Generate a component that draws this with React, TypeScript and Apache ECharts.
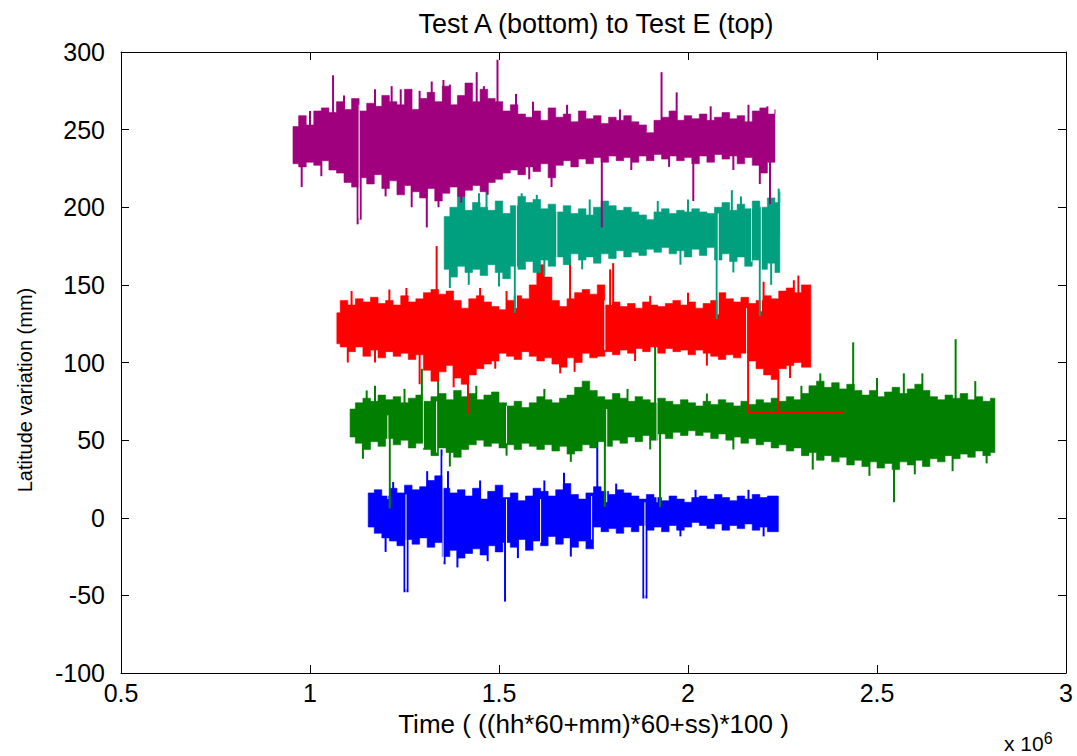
import React, { useEffect, useRef } from "react";
import * as echarts from "echarts";

// ---- Data (time in units of 10^6, latitude variation in mm) ----
// Each envelope row: [time, upper value, lower value]
const TEST_E: [number, number, number][] = [
  [0.955, 252, 228], [0.97, 259, 226], [0.99, 253, 229], [1.01, 262, 227], [1.03, 264, 230],
  [1.05, 261, 224], [1.07, 268, 222], [1.09, 263, 216], [1.11, 270, 213], [1.13, 262, 219],
  [1.15, 267, 215], [1.17, 265, 221], [1.19, 272, 212], [1.21, 268, 217], [1.23, 266, 208],
  [1.25, 276, 214], [1.27, 263, 210], [1.29, 270, 206], [1.31, 274, 212], [1.33, 268, 204],
  [1.35, 278, 209], [1.37, 266, 213], [1.39, 272, 207], [1.41, 280, 211], [1.43, 268, 214],
  [1.45, 276, 210], [1.47, 270, 216], [1.49, 268, 218], [1.51, 262, 222], [1.53, 266, 224],
  [1.55, 260, 221], [1.57, 258, 226], [1.59, 262, 223], [1.61, 256, 228], [1.63, 264, 219],
  [1.65, 258, 227], [1.67, 260, 230], [1.69, 255, 226], [1.71, 262, 231], [1.73, 257, 228],
  [1.75, 259, 232], [1.77, 254, 229], [1.79, 258, 233], [1.81, 256, 230], [1.83, 259, 232],
  [1.85, 255, 229], [1.87, 253, 233], [1.89, 248, 230], [1.91, 256, 234], [1.93, 258, 231],
  [1.95, 262, 233], [1.97, 256, 230], [1.99, 259, 232], [2.01, 257, 228], [2.03, 260, 233],
  [2.05, 256, 229], [2.07, 258, 234], [2.09, 261, 231], [2.11, 257, 233], [2.13, 259, 228],
  [2.15, 255, 232], [2.17, 262, 227], [2.19, 264, 222], [2.21, 260, 229], [2.23, 263, 231],
];
const TEST_E_SPIKES: [number, number][] = [
  [0.978, 213], [1.00, 262], [1.03, 220], [1.061, 285], [1.09, 272], [1.126, 189], [1.134, 192],
  [1.172, 276], [1.20, 207], [1.216, 278], [1.24, 276], [1.269, 200], [1.29, 275], [1.309, 187],
  [1.322, 281], [1.34, 200], [1.353, 282], [1.37, 279], [1.40, 203], [1.423, 280], [1.441, 287],
  [1.46, 278], [1.47, 208], [1.496, 295], [1.545, 273], [1.58, 218], [1.59, 268], [1.639, 213],
  [1.68, 266], [1.772, 187], [1.82, 263], [1.85, 224], [1.930, 287], [1.95, 226], [1.970, 274],
  [2.014, 204], [2.06, 265], [2.12, 224], [2.16, 266], [2.19, 215], [2.21, 265], [2.217, 202],
];
const TEST_E_GAPS: [number, number, number][] = [[1.130, 266, 193]];

const TEST_D: [number, number, number][] = [
  [1.355, 194, 160], [1.37, 200, 155], [1.39, 207, 162], [1.41, 198, 158], [1.43, 203, 160],
  [1.45, 200, 156], [1.47, 198, 163], [1.49, 204, 158], [1.51, 196, 154], [1.53, 201, 162],
  [1.55, 207, 160], [1.57, 203, 165], [1.59, 205, 158], [1.61, 199, 166], [1.63, 202, 162],
  [1.65, 197, 168], [1.67, 201, 163], [1.69, 196, 170], [1.71, 199, 166], [1.73, 195, 168],
  [1.75, 200, 164], [1.77, 204, 170], [1.79, 201, 167], [1.81, 198, 172], [1.83, 200, 168],
  [1.85, 197, 171], [1.87, 195, 169], [1.89, 192, 173], [1.91, 197, 171], [1.93, 199, 174],
  [1.95, 196, 170], [1.97, 198, 172], [1.99, 197, 168], [2.01, 199, 173], [2.03, 197, 169],
  [2.05, 196, 174], [2.07, 200, 166], [2.09, 203, 170], [2.11, 198, 165], [2.13, 202, 168],
  [2.15, 199, 162], [2.17, 204, 166], [2.19, 200, 160], [2.21, 206, 164], [2.23, 203, 158],
  [2.243, 210, 162],
];
const TEST_D_SPIKES: [number, number][] = [
  [1.37, 148], [1.40, 210], [1.42, 150], [1.447, 209], [1.467, 218], [1.50, 149], [1.542, 132],
  [1.56, 209], [1.60, 208], [1.62, 156], [1.72, 160], [1.74, 205], [1.92, 204], [1.98, 163],
  [2.00, 205], [2.076, 128], [2.116, 211], [2.12, 158], [2.14, 207], [2.19, 130], [2.22, 150],
  [2.24, 212],
];
const TEST_D_GAPS: [number, number, number][] = [
  [1.546, 207, 135], [1.653, 205, 160], [2.080, 196, 131], [2.168, 200, 165], [2.194, 205, 133],
];

const TEST_C: [number, number, number][] = [
  [1.071, 132, 112], [1.08, 140, 110], [1.10, 137, 107], [1.12, 141, 110], [1.14, 139, 104],
  [1.16, 142, 108], [1.18, 138, 103], [1.20, 140, 107], [1.22, 137, 104], [1.24, 143, 106],
  [1.26, 139, 102], [1.28, 141, 105], [1.30, 145, 95], [1.32, 147, 88], [1.34, 144, 94],
  [1.36, 146, 98], [1.38, 140, 90], [1.40, 135, 86], [1.42, 141, 92], [1.44, 143, 96],
  [1.46, 139, 99], [1.48, 136, 101], [1.50, 134, 106], [1.52, 140, 104], [1.54, 143, 102],
  [1.56, 141, 107], [1.58, 150, 104], [1.60, 163, 101], [1.62, 155, 103], [1.64, 140, 99],
  [1.66, 136, 97], [1.68, 141, 103], [1.70, 145, 100], [1.72, 147, 106], [1.74, 144, 103],
  [1.76, 150, 104], [1.78, 137, 107], [1.80, 139, 105], [1.82, 136, 108], [1.84, 138, 106],
  [1.86, 135, 109], [1.88, 139, 107], [1.90, 137, 110], [1.92, 136, 106], [1.94, 138, 109],
  [1.96, 140, 107], [1.98, 137, 108], [2.00, 139, 105], [2.02, 135, 108], [2.04, 138, 106],
  [2.06, 140, 104], [2.08, 145, 102], [2.10, 141, 105], [2.12, 139, 103], [2.14, 142, 106],
  [2.16, 138, 101], [2.18, 140, 96], [2.20, 143, 92], [2.22, 141, 89], [2.24, 146, 96],
  [2.26, 148, 98], [2.28, 145, 100], [2.30, 150, 97], [2.325, 147, 99],
];
const TEST_C_SPIKES: [number, number][] = [
  [1.10, 100], [1.11, 146], [1.172, 100], [1.21, 147], [1.255, 148], [1.29, 86], [1.335, 175],
  [1.38, 84], [1.418, 67], [1.45, 148], [1.49, 96], [1.52, 146], [1.662, 93], [1.688, 167],
  [1.70, 94], [1.794, 160], [1.802, 164], [1.86, 101], [1.90, 143], [2.00, 145], [2.05, 98],
  [2.20, 152], [2.27, 90], [2.28, 153], [2.292, 156],
];
const TEST_C_GAPS: [number, number, number][] = [[1.78, 140, 108], [2.155, 135, 105]];
// Test C's trace jumps down and runs flat at the end
const TEST_C_STEP: [number, number][] = [[2.159, 108], [2.159, 67.5], [2.41, 67.5]];
const TEST_C_STEP2: [number, number][] = [[2.239, 95], [2.239, 67.5]];

const TEST_B: [number, number, number][] = [
  [1.106, 70, 52], [1.12, 74, 48], [1.14, 77, 44], [1.16, 75, 49], [1.18, 79, 46],
  [1.20, 76, 51], [1.22, 78, 47], [1.24, 74, 50], [1.26, 77, 45], [1.28, 79, 48],
  [1.30, 75, 44], [1.32, 78, 40], [1.34, 80, 45], [1.36, 76, 42], [1.38, 82, 39],
  [1.40, 78, 44], [1.42, 80, 47], [1.44, 76, 50], [1.46, 79, 46], [1.48, 81, 48],
  [1.50, 74, 45], [1.52, 72, 47], [1.54, 75, 44], [1.56, 71, 48], [1.58, 74, 46],
  [1.60, 78, 44], [1.62, 76, 47], [1.64, 74, 43], [1.66, 77, 46], [1.68, 79, 41],
  [1.70, 84, 43], [1.72, 88, 47], [1.74, 82, 45], [1.76, 78, 49], [1.78, 76, 46],
  [1.80, 80, 50], [1.82, 77, 48], [1.84, 75, 52], [1.86, 78, 49], [1.88, 76, 53],
  [1.90, 74, 50], [1.92, 77, 54], [1.94, 75, 51], [1.96, 73, 55], [1.98, 76, 53],
  [2.00, 74, 56], [2.02, 72, 53], [2.04, 75, 55], [2.06, 73, 51], [2.08, 76, 54],
  [2.10, 74, 50], [2.12, 72, 52], [2.14, 75, 48], [2.16, 73, 51], [2.18, 76, 47],
  [2.20, 74, 49], [2.22, 77, 45], [2.24, 75, 47], [2.26, 78, 43], [2.28, 76, 45],
  [2.30, 80, 40], [2.32, 85, 42], [2.34, 88, 37], [2.36, 84, 40], [2.38, 87, 36],
  [2.40, 83, 39], [2.42, 86, 34], [2.44, 82, 37], [2.46, 79, 33], [2.48, 82, 36],
  [2.50, 78, 32], [2.52, 81, 35], [2.54, 84, 31], [2.56, 80, 36], [2.58, 83, 34],
  [2.60, 86, 37], [2.62, 82, 33], [2.64, 78, 38], [2.66, 76, 36], [2.68, 79, 40],
  [2.70, 77, 38], [2.72, 80, 41], [2.74, 76, 39], [2.76, 78, 43], [2.78, 75, 40],
  [2.80, 77, 42], [2.812, 74, 44],
];
const TEST_B_SPIKES: [number, number][] = [
  [1.14, 38], [1.15, 82], [1.172, 85], [1.211, 6], [1.25, 83], [1.296, 96], [1.339, 106],
  [1.37, 33], [1.44, 85], [1.52, 40], [1.62, 83], [1.69, 36], [1.780, 7], [1.84, 83],
  [1.90, 44], [1.913, 111], [1.926, 7], [2.05, 80], [2.12, 44], [2.30, 85], [2.33, 31],
  [2.35, 93], [2.437, 113], [2.48, 27], [2.50, 90], [2.545, 10], [2.571, 93], [2.60, 28],
  [2.62, 93], [2.70, 30], [2.708, 115], [2.76, 88], [2.79, 35],
];
const TEST_B_GAPS: [number, number, number][] = [
  [1.206, 66, 12], [1.30, 80, 45], [1.335, 75, 42], [1.52, 72, 48], [1.785, 70, 10], [1.918, 75, 10],
];

const TEST_A: [number, number, number][] = [
  [1.154, 16, -6], [1.17, 18, -10], [1.19, 14, -13], [1.21, 19, -15], [1.23, 16, -18],
  [1.25, 21, -14], [1.27, 18, -17], [1.29, 20, -13], [1.31, 24, -19], [1.33, 27, -16],
  [1.35, 19, -25], [1.37, 16, -21], [1.39, 18, -26], [1.41, 14, -23], [1.43, 19, -20],
  [1.45, 12, -24], [1.47, 17, -18], [1.49, 21, -22], [1.51, 13, -16], [1.53, 16, -19],
  [1.55, 11, -14], [1.57, 14, -21], [1.59, 19, -15], [1.61, 17, -18], [1.63, 14, -12],
  [1.65, 18, -17], [1.67, 22, -13], [1.69, 15, -19], [1.71, 12, -15], [1.73, 16, -20],
  [1.75, 20, -6], [1.77, 17, -9], [1.79, 15, -7], [1.81, 18, -10], [1.83, 16, -6],
  [1.85, 14, -9], [1.87, 12, -5], [1.89, 15, -8], [1.91, 13, -6], [1.93, 11, -9],
  [1.95, 14, -5], [1.97, 12, -8], [1.99, 10, -6], [2.01, 13, -3], [2.03, 14, -5],
  [2.05, 12, -7], [2.07, 15, -4], [2.09, 13, -8], [2.11, 11, -5], [2.13, 14, -7],
  [2.15, 12, -4], [2.17, 15, -8], [2.19, 13, -6], [2.21, 14, -9], [2.239, 12, -6],
];
const TEST_A_SPIKES: [number, number][] = [
  [1.20, -22], [1.22, 23], [1.250, -48], [1.258, -48], [1.31, 30], [1.348, 44], [1.356, -30],
  [1.365, 30], [1.39, -32], [1.45, 24], [1.47, -28], [1.516, -54], [1.55, -26], [1.62, 24],
  [1.672, 29], [1.69, -25], [1.760, 52], [1.81, 22], [1.882, -52], [1.890, -52], [1.98, -12],
  [2.02, 18], [2.16, 18], [2.20, -12],
];
const TEST_A_GAPS: [number, number, number][] = [
  [1.254, 15, -46], [1.352, 40, -28], [1.52, 12, -50], [1.61, 12, -16], [1.745, 14, -14], [1.886, 10, -50],
];

const X_TICKS = [0.5, 1, 1.5, 2, 2.5, 3];
const Y_TICKS = [-100, -50, 0, 50, 100, 150, 200, 250, 300];

const TITLE = "Test A (bottom) to Test E (top)";
const X_NAME = "Time ( ((hh*60+mm)*60+ss)*100 )";
const Y_NAME = "Latitude variation (mm)";

const FONT = "'Liberation Sans', Arial, Helvetica, sans-serif";

function makeRender(
  env: [number, number, number][],
  spikes: [number, number][],
  gaps: [number, number, number][],
  color: string
) {
  return (params: any, api: any) => {
    if (params.dataIndex !== 0) return null;
    const n = env.length;
    const pts: number[][] = [];
    for (let i = 0; i < n; i++) {
      const tn = i + 1 < n ? env[i + 1][0] : env[i][0];
      pts.push(api.coord([env[i][0], env[i][1]]));
      pts.push(api.coord([tn, env[i][1]]));
    }
    for (let i = n - 1; i >= 0; i--) {
      const tn = i + 1 < n ? env[i + 1][0] : env[i][0];
      pts.push(api.coord([tn, env[i][2]]));
      pts.push(api.coord([env[i][0], env[i][2]]));
    }
    const children: any[] = [
      { type: "polygon", shape: { points: pts }, style: { fill: color, stroke: color, lineWidth: 0.6 } },
    ];
    spikes.forEach(([t, v]) => {
      let best = env[0];
      for (const row of env) if (row[0] <= t) best = row;
      const base = (best[1] + best[2]) / 2;
      const p = api.coord([t, base]);
      const q = api.coord([t, v]);
      children.push({
        type: "line",
        shape: { x1: p[0], y1: p[1], x2: q[0], y2: q[1] },
        style: { stroke: color, lineWidth: 2 },
      });
    });
    gaps.forEach(([t, a, b]) => {
      const p = api.coord([t, a]);
      const q = api.coord([t, b]);
      children.push({
        type: "line",
        shape: { x1: p[0], y1: p[1], x2: q[0], y2: q[1] },
        style: { stroke: "#ffffff", lineWidth: 1 },
      });
    });
    return { type: "group", children };
  };
}

function testSeries(
  name: string,
  env: [number, number, number][],
  spikes: [number, number][],
  gaps: [number, number, number][],
  color: string,
  z: number
) {
  return {
    type: "custom",
    name,
    xAxisIndex: 0,
    yAxisIndex: 0,
    z,
    data: env.map((r) => [r[0], r[1]]),
    renderItem: makeRender(env, spikes, gaps, color),
    silent: true,
  };
}

export default function App() {
  const ref = useRef<HTMLDivElement>(null);
  useEffect(() => {
    if (!ref.current) return;
    const chart = echarts.init(ref.current, undefined, { renderer: "svg" });
    const axisCommon = {
      type: "value",
      axisLine: { show: true, onZero: false, lineStyle: { color: "#000", width: 1 } },
      axisTick: { show: true, inside: true, length: 8, lineStyle: { color: "#000", width: 1 } },
      splitLine: { show: false },
    };
    const labelStyle = {
      color: "#000",
      fontSize: 25,
      fontFamily: FONT,
    };
    const option: any = {
      animation: false,
      backgroundColor: "#ffffff",
      title: {
        text: TITLE,
        left: 591,
        top: 5,
        textAlign: "center",
        textStyle: { fontSize: 27, fontWeight: "normal", color: "#000", fontFamily: FONT },
      },
      grid: { left: 121, right: 11, top: 52, bottom: 83, containLabel: false },
      xAxis: [
        {
          ...axisCommon,
          position: "bottom",
          min: X_TICKS[0],
          max: X_TICKS[X_TICKS.length - 1],
          interval: 0.5,
          axisLabel: { ...labelStyle, margin: 7, showMinLabel: true, showMaxLabel: true, hideOverlap: false },
          name: X_NAME,
          nameLocation: "middle",
          nameGap: 38,
          nameTextStyle: { ...labelStyle, fontSize: 26 },
        },
        {
          ...axisCommon,
          position: "top",
          min: X_TICKS[0],
          max: X_TICKS[X_TICKS.length - 1],
          interval: 0.5,
          axisLabel: { show: false },
        },
      ],
      yAxis: [
        {
          ...axisCommon,
          position: "left",
          min: Y_TICKS[0],
          max: Y_TICKS[Y_TICKS.length - 1],
          interval: 50,
          axisLabel: { ...labelStyle, margin: 16, showMinLabel: true, showMaxLabel: true },
        },
        {
          ...axisCommon,
          position: "right",
          min: Y_TICKS[0],
          max: Y_TICKS[Y_TICKS.length - 1],
          interval: 50,
          axisLabel: { show: false },
        },
      ],
      graphic: [
        {
          type: "text",
          x: 25,
          y: 390,
          rotation: Math.PI / 2,
          style: {
            text: Y_NAME,
            fontSize: 20,
            fontFamily: FONT,
            fill: "#000",
            align: "center",
            verticalAlign: "middle",
          },
        },
        {
          type: "text",
          x: 1004,
          y: 730,
          style: {
            text: "x 10{sup|6}",
            fontSize: 21,
            fontFamily: FONT,
            fill: "#000",
            rich: { sup: { fontSize: 16, fontFamily: FONT, verticalAlign: "top", padding: [0, 0, 10, 0] } },
          },
        },
      ],
      series: [
        testSeries("Test A", TEST_A, TEST_A_SPIKES, TEST_A_GAPS, "#0000ff", 2),
        testSeries("Test B", TEST_B, TEST_B_SPIKES, TEST_B_GAPS, "#007f00", 3),
        testSeries("Test C", TEST_C, TEST_C_SPIKES, TEST_C_GAPS, "#ff0000", 4),
        {
          type: "line",
          name: "Test C step",
          data: TEST_C_STEP,
          showSymbol: false,
          z: 4,
          lineStyle: { color: "#ff0000", width: 2 },
          silent: true,
        },
        {
          type: "line",
          name: "Test C step 2",
          data: TEST_C_STEP2,
          showSymbol: false,
          z: 4,
          lineStyle: { color: "#ff0000", width: 2 },
          silent: true,
        },
        testSeries("Test D", TEST_D, TEST_D_SPIKES, TEST_D_GAPS, "#00a07f", 5),
        testSeries("Test E", TEST_E, TEST_E_SPIKES, TEST_E_GAPS, "#a0007d", 6),
      ],
    };
    chart.setOption(option);
    return () => chart.dispose();
  }, []);
  return (
    <div
      ref={ref}
      style={{ position: "fixed", left: 0, top: 0, width: 1077, height: 756, background: "#fff" }}
    />
  );
}
